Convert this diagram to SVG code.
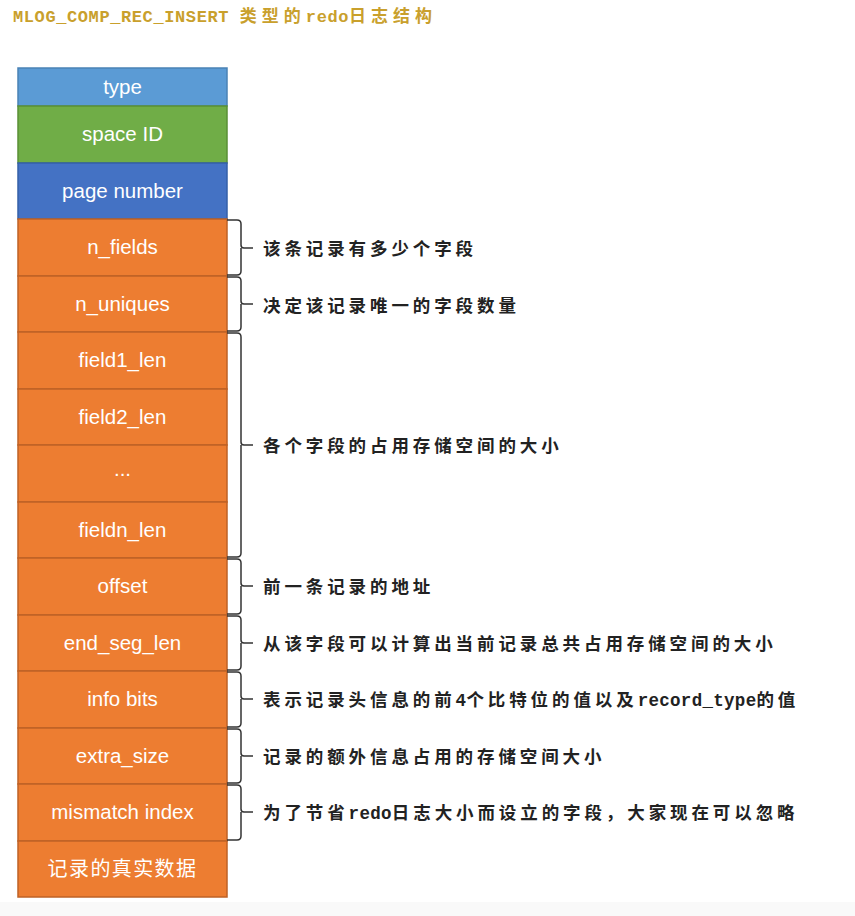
<svg xmlns="http://www.w3.org/2000/svg" width="855" height="916" viewBox="0 0 855 916">
<style>
.box{stroke-width:1.5}
.b1{fill:#5B9BD5;stroke:#4A82B5}
.b2{fill:#70AD47;stroke:#5A9036}
.b3{fill:#4472C4;stroke:#3560A8}
.bo{fill:#ED7D31;stroke:#BE6226}
.lbl{font-family:"Liberation Sans",Arial,sans-serif;font-size:20.5px;fill:#fff;text-anchor:middle}
.lblc{font-family:"Liberation Sans","Noto Sans CJK SC",sans-serif;font-size:20px;fill:#fff;text-anchor:middle;letter-spacing:1.4px}
.brace{fill:none;stroke:#333;stroke-width:1.5}
.note{font-family:"Noto Sans CJK SC",sans-serif;font-weight:bold;font-size:17.5px;fill:#222;letter-spacing:3.9px}
.mono{font-family:"Liberation Mono","Noto Sans CJK SC",monospace;font-weight:bold;letter-spacing:0.3px}
.title{font-family:"Liberation Mono","Noto Sans CJK SC",monospace;font-weight:bold;font-size:17px;fill:#C9A02C;letter-spacing:0.6px}
</style>
<rect x="0" y="0" width="855" height="916" fill="#fff"/>
<rect x="0" y="902" width="855" height="14" fill="#f9f9f9"/>
<text class="title" x="13" y="22">MLOG_COMP_REC_INSERT <tspan font-family="Noto Sans CJK SC" letter-spacing="5px">类型的</tspan>redo<tspan font-family="Noto Sans CJK SC" letter-spacing="5px">日志结构</tspan></text>

<g id="node-type"><rect class="box b1" x="18" y="68" width="209" height="38"/><text class="lbl" x="122.5" y="94">type</text></g>
<g id="node-spaceid"><rect class="box b2" x="18" y="106" width="209" height="57"/><text class="lbl" x="122.5" y="141">space ID</text></g>
<g id="node-pagenumber"><rect class="box b3" x="18" y="163" width="209" height="56"/><text class="lbl" x="122.5" y="198">page number</text></g>
<g id="node-n_fields"><rect class="box bo" x="18" y="219" width="209" height="57"/><text class="lbl" x="122.5" y="254">n_fields</text></g>
<g id="node-n_uniques"><rect class="box bo" x="18" y="276" width="209" height="56"/><text class="lbl" x="122.5" y="311">n_uniques</text></g>
<g id="node-field1_len"><rect class="box bo" x="18" y="332" width="209" height="57"/><text class="lbl" x="122.5" y="367">field1_len</text></g>
<g id="node-field2_len"><rect class="box bo" x="18" y="389" width="209" height="56"/><text class="lbl" x="122.5" y="424">field2_len</text></g>
<g id="node-dots"><rect class="box bo" x="18" y="445" width="209" height="57"/><text class="lbl" x="122.5" y="476" font-size="16">...</text></g>
<g id="node-fieldn_len"><rect class="box bo" x="18" y="502" width="209" height="56"/><text class="lbl" x="122.5" y="537">fieldn_len</text></g>
<g id="node-offset"><rect class="box bo" x="18" y="558" width="209" height="57"/><text class="lbl" x="122.5" y="593">offset</text></g>
<g id="node-end_seg_len"><rect class="box bo" x="18" y="615" width="209" height="56"/><text class="lbl" x="122.5" y="650">end_seg_len</text></g>
<g id="node-info_bits"><rect class="box bo" x="18" y="671" width="209" height="57"/><text class="lbl" x="122.5" y="706">info bits</text></g>
<g id="node-extra_size"><rect class="box bo" x="18" y="728" width="209" height="56"/><text class="lbl" x="122.5" y="763">extra_size</text></g>
<g id="node-mismatch_index"><rect class="box bo" x="18" y="784" width="209" height="57"/><text class="lbl" x="122.5" y="819">mismatch index</text></g>
<g id="node-data"><rect class="box bo" x="18" y="841" width="209" height="56"/><text class="lblc" x="122.5" y="876">记录的真实数据</text></g>

<g id="connectors">
<path class="brace" d="M227 220 H237 Q241 220 241 224 V245 Q241 248 244 248 H253 M241 248 V271 Q241 275 237 275 H227"/>
<path class="brace" d="M227 277 H237 Q241 277 241 281 V301 Q241 304 244 304 H253 M241 304 V327 Q241 331 237 331 H227"/>
<path class="brace" d="M227 333 H237 Q241 333 241 337 V442 Q241 445 244 445 H253 M241 445 V553 Q241 557 237 557 H227"/>
<path class="brace" d="M227 559 H237 Q241 559 241 563 V583 Q241 586 244 586 H253 M241 586 V610 Q241 614 237 614 H227"/>
<path class="brace" d="M227 616 H237 Q241 616 241 620 V640 Q241 643 244 643 H253 M241 643 V666 Q241 670 237 670 H227"/>
<path class="brace" d="M227 672 H237 Q241 672 241 676 V696 Q241 699 244 699 H253 M241 699 V723 Q241 727 237 727 H227"/>
<path class="brace" d="M227 729 H237 Q241 729 241 733 V753 Q241 756 244 756 H253 M241 756 V779 Q241 783 237 783 H227"/>
<path class="brace" d="M227 785 H237 Q241 785 241 789 V809 Q241 812 244 812 H253 M241 812 V836 Q241 840 237 840 H227"/>
</g>

<g id="notes">
<text class="note" x="263" y="255">该条记录有多少个字段</text>
<text class="note" x="263" y="312">决定该记录唯一的字段数量</text>
<text class="note" x="263" y="452">各个字段的占用存储空间的大小</text>
<text class="note" x="263" y="593">前一条记录的地址</text>
<text class="note" x="263" y="650">从该字段可以计算出当前记录总共占用存储空间的大小</text>
<text class="note" x="263" y="706">表示记录头信息的前<tspan class="mono">4</tspan>个比特位的值以及<tspan class="mono">record_type</tspan>的值</text>
<text class="note" x="263" y="763">记录的额外信息占用的存储空间大小</text>
<text class="note" x="263" y="819">为了节省<tspan class="mono">redo</tspan>日志大小而设立的字段，大家现在可以忽略</text>
</g>
</svg>
